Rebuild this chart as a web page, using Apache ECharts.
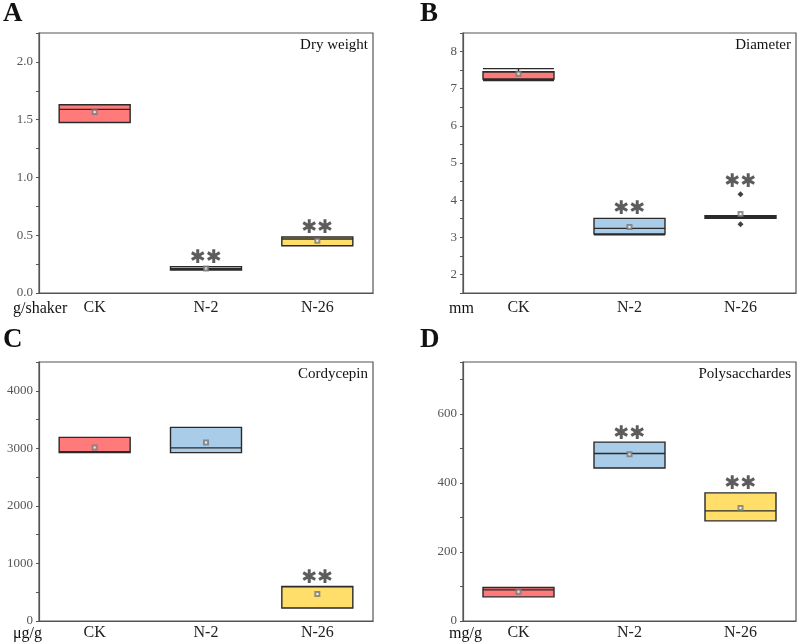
<!DOCTYPE html>
<html><head><meta charset="utf-8">
<script src="https://cdn.jsdelivr.net/npm/echarts@6/dist/echarts.min.js"></script>
<style>html,body{margin:0;padding:0;background:#fff}#c{width:800px;height:644px}</style>
</head><body><div id="c"></div>
<script>
var categories = ['CK', 'N-2', 'N-26'];
// [min, Q1, median, Q3, max]
var dryWeightBox = [[1.476,1.476,1.589,1.629,1.629],[0.199,0.199,0.210,0.228,0.228],[0.409,0.409,0.467,0.484,0.484]];
var dryWeightMean = [1.566, 0.212, 0.452];
var dryWeightSig = [null, 0.30, 0.56];

var diameterBox = [[7.22,7.26,7.45,7.46,7.54],[3.07,3.09,3.24,3.51,3.51],[3.51,3.51,3.54,3.58,3.58]];
var diameterMean = [7.40, 3.28, 3.63];
var diameterOutliers = [[2, 4.16], [2, 3.35]];
var diameterSig = [null, 3.75, 4.50];

var cordycepinBox = [[2926,2926,2940,3191,3191],[2926,2926,3008,3365,3365],[225,225,594,600,600]];
var cordycepinMean = [3013, 3100, 468];
var cordycepinSig = [null, null, 745];

var polyBox = [[70,70,90,97,97],[443,443,485,518,518],[290,290,319,371,371]];
var polyMean = [85, 483, 327];
var polySig = [null, 540, 396];

var titles = ['Dry weight', 'Diameter', 'Cordycepin', 'Polysacchardes'];
var units = ['g/shaker', 'mm', 'μg/g', 'mg/g'];
var letters = ['A', 'B', 'C', 'D'];
var yMin = [0, 1.5, 0, 0], yMax = [2.25, 8.5, 4500, 750];
var yStep = [0.25, 0.5, 500, 100], yLabelStep = [0.5, 1, 1000, 200], yDec = [1, 0, 0, 0];

var colors = ['#FF7B7B', '#A9CDE8', '#FFDE6A'];
var serif = '"Liberation Serif", "DejaVu Serif", serif';

var grids = [
  {left: 39, top: 33, width: 334, height: 260},
  {left: 463, top: 33, width: 333, height: 260},
  {left: 39, top: 362, width: 334, height: 259},
  {left: 463, top: 362, width: 333, height: 259}
];
var boxes = [dryWeightBox, diameterBox, cordycepinBox, polyBox];
var means = [dryWeightMean, diameterMean, cordycepinMean, polyMean];
var sigs = [dryWeightSig, diameterSig, cordycepinSig, polySig];
var outliers = [[], diameterOutliers, [], []];

var option = {
  animation: false,
  backgroundColor: '#fff',
  grid: grids.map(function (g) { return Object.assign({show: true, borderColor: '#555', borderWidth: 1.2, backgroundColor: 'transparent'}, g); }),
  xAxis: [], yAxis: [], series: [], graphic: []
};

for (var i = 0; i < 4; i++) {
  var bottomRow = i >= 2;
  option.xAxis.push({
    gridIndex: i, type: 'category', data: categories, boundaryGap: true,
    axisLine: {lineStyle: {color: '#555', width: 1.2}},
    axisTick: {alignWithLabel: true, length: 4, lineStyle: {color: '#555'}},
    axisLabel: {color: '#222', fontFamily: serif, fontSize: 16, margin: bottomRow ? 4 : 7},
    splitLine: {show: false}
  });
  (function (idx) {
    option.yAxis.push({
      gridIndex: idx, type: 'value', min: yMin[idx], max: yMax[idx], interval: yStep[idx],
      axisLine: {show: true, lineStyle: {color: '#555', width: 1.2}},
      axisTick: {show: true, length: 3, lineStyle: {color: '#555'}},
      splitLine: {show: false},
      axisLabel: {
        color: '#555', fontFamily: serif, fontSize: 13, margin: 6,
        formatter: function (v) {
          var r = v / yLabelStep[idx];
          if (Math.abs(r - Math.round(r)) > 1e-6) return '';
          return v.toFixed(yDec[idx]);
        }
      }
    });
  })(i);

  option.series.push({
    type: 'boxplot', xAxisIndex: i, yAxisIndex: i,
    boxWidth: [71, 71],
    data: boxes[i].map(function (d, k) {
      return {value: d, itemStyle: {color: colors[k], borderColor: '#2a2a2a', borderWidth: 1.4}};
    })
  });
  option.series.push({
    type: 'scatter', xAxisIndex: i, yAxisIndex: i, symbol: 'emptyRect', symbolSize: 4,
    itemStyle: {color: '#777', borderColor: '#777', borderWidth: 0.7},
    z: 5,
    data: means[i].map(function (v, k) { return [k, v]; })
  });
  if (outliers[i].length) {
    option.series.push({
      type: 'scatter', xAxisIndex: i, yAxisIndex: i, symbol: 'diamond', symbolSize: 6,
      itemStyle: {color: '#111'}, z: 5,
      data: outliers[i]
    });
  }
  option.series.push({
    type: 'scatter', xAxisIndex: i, yAxisIndex: i, symbolSize: 1,
    itemStyle: {color: 'transparent'}, z: 6,
    label: {show: true, position: 'inside', formatter: '✱✱', color: '#333', fontSize: 19, fontFamily: '"DejaVu Sans", sans-serif'},
    data: sigs[i].map(function (v, k) { return v == null ? null : [k, v]; }).filter(function (d) { return d; })
  });

  var g = grids[i];
  option.graphic.push({
    type: 'text', right: 800 - (g.left + g.width) + 5, top: g.top + 5,
    style: {text: titles[i], font: '15px ' + serif, fill: '#111'}
  });
  option.graphic.push({
    type: 'text', left: g.left - (i % 2 === 0 ? 26 : 14), top: g.top + g.height + (bottomRow ? 5 : 8),
    style: {text: units[i], font: '16px ' + serif, fill: '#111'}
  });
  option.graphic.push({
    type: 'text', left: (i % 2 === 0 ? 3 : 420), top: (i < 2 ? 1 : 327),
    style: {text: letters[i], font: 'bold 27px ' + serif, fill: '#111'}
  });
}

var chart = echarts.init(document.getElementById('c'), null, {renderer: 'canvas'});
chart.setOption(option);
</script></body></html>
